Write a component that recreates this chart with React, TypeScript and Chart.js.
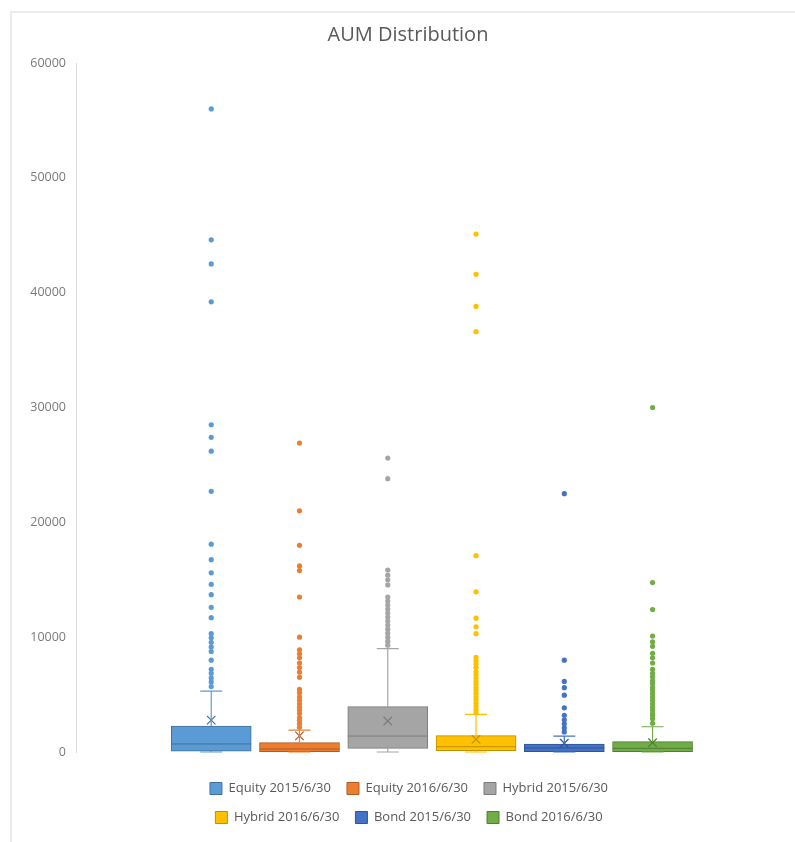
import React, { useEffect, useRef } from 'react';
import { Chart, registerables } from 'chart.js';

Chart.register(...registerables);

// ---------- data ----------
const chartTitle = 'AUM Distribution';
const seriesLabels = [
  'Equity 2015/6/30',
  'Equity 2016/6/30',
  'Hybrid 2015/6/30',
  'Hybrid 2016/6/30',
  'Bond 2015/6/30',
  'Bond 2016/6/30',
];
const seriesColors = ['#5B9BD5', '#ED7D31', '#A5A5A5', '#FFC000', '#4472C4', '#70AD47'];
const seriesDark = ['#41719C', '#AE5A21', '#7C7C7C', '#BF9000', '#2F5597', '#507E32'];

const whiskerLow = [0, 0, 0, 0, 0, 0];
const q1 = [80, 30, 320, 110, 30, 30];
const median = [700, 260, 1390, 460, 350, 320];
const q3 = [2260, 810, 3950, 1420, 700, 900];
const whiskerHigh = [5300, 1900, 9000, 3280, 1390, 2200];
const mean = [2780, 1400, 2700, 1100, 760, 810];

const outliersEquity2015 = [56000, 44600, 42500, 39200, 28500, 27400, 26200, 22700, 18100, 16750, 15600, 14600, 13700, 12600, 11700, 10300, 9950, 9550, 9150, 8750, 8000, 7200, 6850, 6450, 6100, 5700];
const outliersEquity2016 = [26900, 21000, 18000, 16200, 15800, 13500, 10000, 8900, 8550, 8200, 7750, 7350, 6950, 6500, 5450, 5150, 4800, 4500, 4200, 3900, 3650, 3350, 3000, 2750, 2450, 2150];
const outliersHybrid2015 = [25600, 23800, 15850, 15400, 15000, 14550, 13500, 13150, 12800, 12450, 12100, 11750, 11400, 11050, 10700, 10350, 10000, 9650, 9300];
const outliersHybrid2016 = [45100, 41600, 38800, 36600, 17100, 13950, 11650, 10900, 10300, 8250, 7950, 7650, 7350, 7000, 6750, 6450, 6150, 5900, 5600, 5350, 5100, 4800, 4550, 4250, 4000, 3700, 3450];
const outliersBond2015 = [22500, 8000, 6150, 5600, 4950, 3850, 3200, 2800, 2450, 2100, 1750];
const outliersBond2016 = [30000, 14750, 12400, 10100, 9600, 9200, 8600, 8200, 7750, 7200, 6850, 6550, 6200, 5950, 5600, 5400, 5100, 4800, 4500, 4200, 3900, 3650, 3350, 3200, 2900, 2500];

const outlierSets = [
  outliersEquity2015,
  outliersEquity2016,
  outliersHybrid2015,
  outliersHybrid2016,
  outliersBond2015,
  outliersBond2016,
];

const yMin = 0;
const yMax = 60000;
const yStep = 10000;

// ---------- plugins ----------
const boxExtras = {
  id: 'boxExtras',
  afterDatasetsDraw(chart: any) {
    const ctx = chart.ctx;
    const yS = chart.scales.y;
    ctx.save();
    for (let i = 0; i < seriesLabels.length; i++) {
      const meta = chart.getDatasetMeta(i);
      const bar = meta.data[0];
      if (!bar) continue;
      const cx = bar.x;
      const half = bar.width / 2;
      const capHalf = 11;
      const yLo = yS.getPixelForValue(whiskerLow[i]);
      const yQ1 = yS.getPixelForValue(q1[i]);
      const yQ3 = yS.getPixelForValue(q3[i]);
      const yHi = yS.getPixelForValue(whiskerHigh[i]);
      const yMed = yS.getPixelForValue(median[i]);
      ctx.strokeStyle = seriesColors[i];
      ctx.lineWidth = 1.2;
      ctx.beginPath();
      ctx.moveTo(cx, yQ3);
      ctx.lineTo(cx, yHi);
      ctx.moveTo(cx - capHalf, yHi);
      ctx.lineTo(cx + capHalf, yHi);
      ctx.moveTo(cx, yQ1);
      ctx.lineTo(cx, yLo);
      ctx.moveTo(cx - capHalf, yLo);
      ctx.lineTo(cx + capHalf, yLo);
      ctx.stroke();
      ctx.strokeStyle = seriesDark[i];
      ctx.lineWidth = 1;
      ctx.beginPath();
      ctx.moveTo(cx - half, yMed);
      ctx.lineTo(cx + half, yMed);
      ctx.stroke();
    }
    ctx.restore();
  },
};

const LEGEND_W = 480;
const LEGEND_CENTER = 409;

const legendRows = {
  id: 'legendRows',
  beforeLayout(chart: any) {
    const lg = chart.legend;
    if (lg && !lg.__wrapped) {
      const origFit = lg.fit;
      lg.fit = function () {
        const full = this.maxWidth;
        this.maxWidth = LEGEND_W;
        origFit.call(this);
        this.maxWidth = full;
      };
      lg.__wrapped = true;
    }
  },
  afterLayout(chart: any) {
    const lg = chart.legend;
    if (lg) {
      lg.left = LEGEND_CENTER - LEGEND_W / 2;
      lg.right = LEGEND_CENTER + LEGEND_W / 2;
      lg.width = LEGEND_W;
    }
  },
};

export default function App() {
  const ref = useRef<HTMLCanvasElement | null>(null);

  useEffect(() => {
    if (!ref.current) return;
    Chart.defaults.font.family = "'Open Sans', sans-serif";

    const boxDatasets = seriesLabels.map((label, i) => ({
      type: 'bar' as const,
      label,
      data: [{ x: i, y: [q1[i], q3[i]] }],
      backgroundColor: seriesColors[i],
      borderColor: seriesDark[i],
      borderWidth: 1,
      borderSkipped: false,
      barThickness: 80,
      grouped: false,
      order: 3,
    }));

    const meanDatasets = seriesLabels.map((label, i) => ({
      type: 'scatter' as const,
      label: label + ' mean',
      data: [{ x: i, y: mean[i] }],
      pointStyle: 'crossRot',
      pointRadius: 6,
      borderColor: seriesDark[i],
      backgroundColor: seriesDark[i],
      borderWidth: 1.2,
      order: 1,
    }));

    const outlierDatasets = seriesLabels.map((label, i) => ({
      type: 'scatter' as const,
      label: label + ' outliers',
      data: outlierSets[i].map((v) => ({ x: i, y: v })),
      pointRadius: 2.6,
      pointBorderWidth: 0,
      backgroundColor: seriesColors[i],
      borderColor: seriesColors[i],
      order: 2,
    }));

    const chart = new Chart(ref.current, {
      type: 'bar',
      data: {
        datasets: [...boxDatasets, ...meanDatasets, ...outlierDatasets] as any,
      },
      options: {
        animation: false,
        responsive: false,
        layout: { padding: { left: 24, right: 3, top: 0, bottom: 8 } },
        scales: {
          x: {
            type: 'linear',
            offset: false,
            min: -1.532,
            max: 6.532,
            ticks: { display: false },
            grid: { display: false },
            border: { display: false },
            afterFit: (s: any) => {
              s.height = 14;
            },
          },
          y: {
            type: 'linear',
            min: yMin,
            max: yMax,
            ticks: {
              stepSize: yStep,
              color: '#7a7a7a',
              font: { size: 12.5 },
              padding: 10,
              callback: (v: any) => String(v),
            },
            grid: { display: false, drawTicks: false },
            border: { display: true, color: '#d9d9d9', width: 1 },
            afterFit: (s: any) => {
              s.width = 52;
            },
          },
        },
        plugins: {
          title: {
            display: true,
            text: chartTitle,
            color: '#595959',
            font: { size: 20, weight: 'normal' },
            padding: { top: 23, bottom: 16 },
          },
          legend: {
            display: true,
            position: 'bottom',
            labels: {
              boxWidth: 12,
              boxHeight: 12,
              padding: 16,
              color: '#595959',
              font: { size: 13 },
              filter: (item: any) => item.datasetIndex < seriesLabels.length,
            },
          },
          tooltip: { enabled: false },
        },
      } as any,
      plugins: [boxExtras, legendRows],
    });

    return () => chart.destroy();
  }, []);

  return (
    <div style={{ position: 'absolute', left: 0, top: 0, width: 795, height: 842, background: '#fff' }}>
      <canvas ref={ref} width={795} height={842} style={{ display: 'block' }} />
      <div
        style={{
          position: 'absolute',
          left: 10,
          top: 11,
          width: 785,
          height: 831,
          borderLeft: '2px solid #ececec',
          borderTop: '2px solid #ececec',
          pointerEvents: 'none',
        }}
      />
    </div>
  );
}
